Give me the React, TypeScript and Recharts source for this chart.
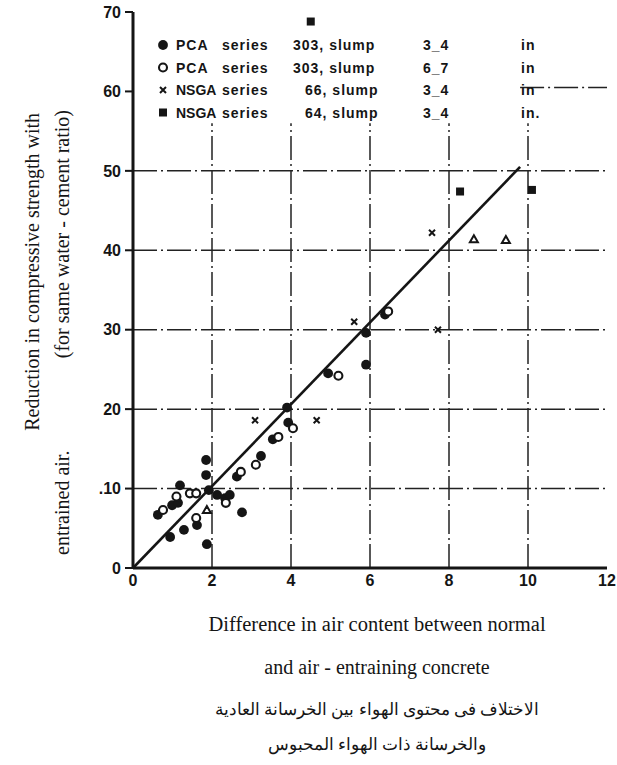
import React from 'react'
import { ScatterChart, Scatter, XAxis, YAxis, ReferenceLine } from 'recharts'

// axis ticks
const xTicks = [0, 2, 4, 6, 8, 10, 12]
const yTicks = [0, 10, 20, 30, 40, 50, 60, 70]
const gridX = [2, 4, 6, 8, 10]
const gridY = [10, 20, 30, 40, 50]

// PCA series 303, slump 3-4 in (filled dots)
const pcaSlump34 = [
  { x: 0.63, y: 6.7 }, { x: 0.99, y: 7.9 }, { x: 1.14, y: 8.2 }, { x: 1.19, y: 10.4 },
  { x: 0.94, y: 3.9 }, { x: 1.29, y: 4.8 }, { x: 1.62, y: 5.4 }, { x: 1.85, y: 13.6 },
  { x: 1.85, y: 11.7 }, { x: 1.92, y: 9.8 }, { x: 1.87, y: 3.0 }, { x: 2.13, y: 9.2 },
  { x: 2.33, y: 8.8 }, { x: 2.45, y: 9.2 }, { x: 2.76, y: 7.0 }, { x: 2.63, y: 11.5 },
  { x: 3.24, y: 14.1 }, { x: 3.54, y: 16.2 }, { x: 3.9, y: 20.2 }, { x: 3.93, y: 18.3 },
  { x: 4.94, y: 24.5 }, { x: 5.9, y: 29.6 }, { x: 5.9, y: 25.6 }, { x: 6.38, y: 31.9 },
]

// PCA series 303, slump 6-7 in (open dots)
const pcaSlump67 = [
  { x: 0.76, y: 7.3 }, { x: 1.1, y: 9.0 }, { x: 1.44, y: 9.4 }, { x: 1.6, y: 9.4 },
  { x: 1.6, y: 6.3 }, { x: 2.35, y: 8.2 }, { x: 2.73, y: 12.1 }, { x: 3.11, y: 13.0 },
  { x: 3.68, y: 16.5 }, { x: 4.05, y: 17.6 }, { x: 5.2, y: 24.2 }, { x: 6.46, y: 32.3 },
]

// NSGA series 66, slump 3-4 in (small crosses)
const nsga66 = [
  { x: 3.09, y: 18.6 }, { x: 4.65, y: 18.6 }, { x: 5.6, y: 31.0 },
  { x: 7.57, y: 42.2 }, { x: 7.72, y: 30.0 },
]

// NSGA series 64, slump 3-4 in (filled squares)
const nsga64 = [
  { x: 8.28, y: 47.4 }, { x: 10.1, y: 47.6 }, { x: 4.5, y: 68.8 },
]

// unlabelled triangle marks
const otherMarks = [
  { x: 1.87, y: 7.3 }, { x: 8.63, y: 41.4 }, { x: 9.44, y: 41.3 },
]

const fitLine = [{ x: 0, y: 0 }, { x: 9.8, y: 50.5 }]

const ink = '#151515'

const FilledDot = (p: any) => <circle cx={p.cx} cy={p.cy} r={4.9} fill={ink} />
const OpenDot = (p: any) => (
  <circle cx={p.cx} cy={p.cy} r={4} fill='#fff' stroke={ink} strokeWidth={2.1} />
)
const XMark = (p: any) => (
  <path
    d={`M${p.cx - 3},${p.cy - 3}L${p.cx + 3},${p.cy + 3}M${p.cx + 3},${p.cy - 3}L${p.cx - 3},${p.cy + 3}`}
    stroke={ink}
    strokeWidth={2}
  />
)
const SquareMark = (p: any) => <rect x={p.cx - 4} y={p.cy - 4} width={8} height={8} fill={ink} />
const TriMark = (p: any) => (
  <path
    d={`M${p.cx},${p.cy - 4}L${p.cx + 4},${p.cy + 3}L${p.cx - 4},${p.cy + 3}Z`}
    fill='#fff'
    stroke={ink}
    strokeWidth={2}
  />
)

const gridStyle = { stroke: '#222', strokeWidth: 1.5, strokeDasharray: '24 4 2 4' }
const tickFont = { fill: ink, fontSize: 16, fontWeight: 700, fontFamily: 'Liberation Sans' }

const legendRows = [
  { mark: 'filled', a: 'PCA', b: '303, slump', bx: 293, c: '3_4', d: 'in' },
  { mark: 'open', a: 'PCA', b: '303, slump', bx: 293, c: '6_7', d: 'in' },
  { mark: 'x', a: 'NSGA', b: '66, slump', bx: 305, c: '3_4', d: 'in' },
  { mark: 'square', a: 'NSGA', b: '64, slump', bx: 305, c: '3_4', d: 'in.' },
]

function LegendMark({ kind, x, y }: { kind: string; x: number; y: number }) {
  if (kind === 'filled') return <FilledDot cx={x} cy={y} />
  if (kind === 'open') return <OpenDot cx={x} cy={y} />
  if (kind === 'x') return <XMark cx={x} cy={y} />
  return <SquareMark cx={x} cy={y} />
}

export default function App() {
  const serif = 'Liberation Serif, DejaVu Serif, serif'
  return (
    <div style={{ position: 'fixed', left: 0, top: 0, width: 617, height: 765, overflow: 'hidden', background: '#fff' }}>
      <ScatterChart width={617} height={593} margin={{ top: 12, right: 10, left: 88, bottom: 0 }}>
        <XAxis
          type='number'
          dataKey='x'
          domain={[0, 12]}
          ticks={xTicks}
          interval={0}
          height={25}
          tickLine={false}
          tickSize={4}
          tickMargin={3}
          axisLine={{ stroke: ink, strokeWidth: 3 }}
          tick={tickFont}
        />
        <XAxis
          xAxisId='top'
          orientation='top'
          type='number'
          domain={[0, 12]}
          height={0}
          tick={false}
          tickLine={false}
          axisLine={{ stroke: ink, strokeWidth: 2 }}
        />
        <YAxis
          type='number'
          dataKey='y'
          domain={[0, 70]}
          ticks={yTicks}
          interval={0}
          width={45}
          tickSize={8}
          tickMargin={4}
          tickFormatter={(v: number) => (v === 10 ? '.10' : String(v))}
          tickLine={{ stroke: ink, strokeWidth: 2 }}
          axisLine={{ stroke: ink, strokeWidth: 3 }}
          tick={tickFont}
        />
        <YAxis
          yAxisId='right'
          orientation='right'
          type='number'
          domain={[0, 70]}
          width={0}
          tick={false}
          tickLine={false}
          axisLine={{ stroke: ink, strokeWidth: 2.5 }}
        />
        {gridX.map((g) => (
          <ReferenceLine key={`gx${g}`} segment={[{ x: g, y: 0 }, { x: g, y: 56 }]} {...gridStyle} />
        ))}
        {gridY.map((g) => (
          <ReferenceLine key={`gy${g}`} y={g} {...gridStyle} />
        ))}
        <ReferenceLine segment={[{ x: 9.8, y: 60.5 }, { x: 12, y: 60.5 }]} {...gridStyle} />
        <ReferenceLine segment={[fitLine[0], fitLine[1]]} stroke={ink} strokeWidth={2.6} />
        <Scatter data={pcaSlump34} shape={FilledDot} isAnimationActive={false} />
        <Scatter data={pcaSlump67} shape={OpenDot} isAnimationActive={false} />
        <Scatter data={nsga66} shape={XMark} isAnimationActive={false} />
        <Scatter data={nsga64} shape={SquareMark} isAnimationActive={false} />
        <Scatter data={otherMarks} shape={TriMark} isAnimationActive={false} />
      </ScatterChart>

      <svg width={617} height={765} style={{ position: 'absolute', left: 0, top: 0, pointerEvents: 'none' }}>
        {legendRows.map((r, i) => {
          const cy = 45 + i * 22.5
          const t = { fontFamily: 'Liberation Sans', fontSize: 14, fontWeight: 600, fill: ink, letterSpacing: 1 }
          return (
            <g key={i}>
              <LegendMark kind={r.mark} x={163} y={cy} />
              <text x={176} y={cy + 5} {...t} letterSpacing={r.a === 'NSGA' ? 0 : 1}>{r.a}</text>
              <text x={222} y={cy + 5} {...t}>series</text>
              <text x={r.bx} y={cy + 5} {...t}>{r.b}</text>
              <text x={423} y={cy + 5} {...t}>{r.c}</text>
              <text x={521} y={cy + 5} {...t}>{r.d}</text>
            </g>
          )
        })}
        <text
          transform='translate(39,113) rotate(-90)'
          textAnchor='end'
          fontFamily={serif}
          fontSize={20}
          fill={ink}
        >
          Reduction in compressive strength with
        </text>
        <text transform='translate(69,555) rotate(-90)' fontFamily={serif} fontSize={20} fill={ink}>
          entrained air.
        </text>
        <text
          transform='translate(69,110) rotate(-90)'
          textAnchor='end'
          fontFamily={serif}
          fontSize={20}
          fill={ink}
        >
          (for same water - cement ratio)
        </text>
      </svg>

      <div style={{ position: 'absolute', top: 0, left: 77, width: 600, fontFamily: serif, color: ink, textAlign: 'center' }}>
        <div style={{ position: 'absolute', top: 613, left: 0, width: 600, fontSize: 20.5 }}>
          Difference in air content between normal
        </div>
        <div style={{ position: 'absolute', top: 656, left: 0, width: 600, fontSize: 20 }}>
          and air - entraining concrete
        </div>
        <div style={{ position: 'absolute', top: 700, left: 0, width: 600, fontSize: 16.5, direction: 'rtl' }}>
          الاختلاف فى محتوى الهواء بين الخرسانة العادية
        </div>
        <div style={{ position: 'absolute', top: 735, left: 0, width: 600, fontSize: 16.5, direction: 'rtl' }}>
          والخرسانة ذات الهواء المحبوس
        </div>
      </div>
    </div>
  )
}
